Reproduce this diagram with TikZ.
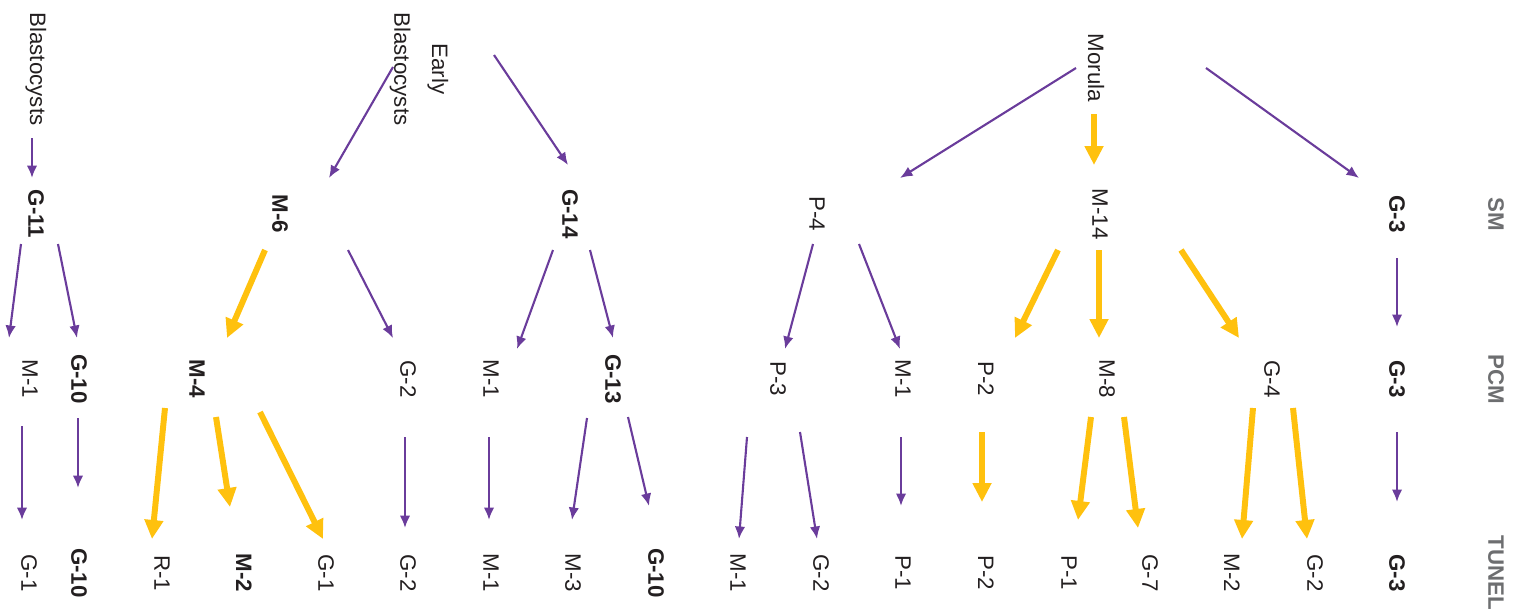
\documentclass[tikz,border=0pt]{standalone}
\usepackage{fontspec}
\setmainfont{Liberation Sans}
\usetikzlibrary{arrows.meta,calc}

\definecolor{ink}{RGB}{35,31,32}
\definecolor{rowgray}{RGB}{109,110,112}
\definecolor{lineviolet}{RGB}{106,60,155}
\definecolor{lineamber}{RGB}{255,193,14}
\newcommand{\lblfont}{\fontsize{12.7}{14}\selectfont}

\tikzset{
  lab/.style={rotate=-90, inner sep=0pt, text=ink, font=\lblfont},
  keylab/.style={lab, font=\lblfont\bfseries},
  rowlab/.style={lab, font=\lblfont\bfseries, text=rowgray},
  parrow/.style={draw=lineviolet, line width=1.2pt, -{Latex[length=0.25cm,width=0.21cm]}},
  yarrow/.style={draw=lineamber, line width=3.4pt, -{Triangle[length=0.38cm,width=0.36cm]}}
}

\begin{document}
\begin{tikzpicture}[x=0.02cm, y=-0.02cm]
\useasboundingbox (0,0) rectangle (1514,612);

% stages
\node[lab] (blast) at (36,69) {Blastocysts};
\node[lab, align=center] (early) at (419,69) {Early\\[7.5pt]Blastocysts};
\node[lab] (morula) at (1096,68) {Morula};

% SM row
\node[keylab] (g11) at (36,214) {G-11};
\node[keylab] (m6) at (280,214) {M-6};
\node[keylab] (g14) at (570,214) {G-14};
\node[lab] (p4) at (817,214) {P-4};
\node[lab] (m14) at (1100,214) {M-14};
\node[keylab] (g3a) at (1397,214) {G-3};
\node[rowlab] (sm) at (1496,214) {SM};

% PCM row
\node[lab] (m1a) at (30,379) {M-1};
\node[keylab] (g10a) at (79,379) {G-10};
\node[keylab] (m4) at (197,379) {M-4};
\node[lab] (g2a) at (408,379) {G-2};
\node[lab] (m1b) at (491,379) {M-1};
\node[keylab] (g13) at (613,379) {G-13};
\node[lab] (p3) at (778,379) {P-3};
\node[lab] (m1c) at (903,379) {M-1};
\node[lab] (p2a) at (986,379) {P-2};
\node[lab] (m8) at (1107,379) {M-8};
\node[lab] (g4) at (1272,379) {G-4};
\node[keylab] (g3b) at (1397,379) {G-3};
\node[rowlab] (pcm) at (1496,379) {PCM};

% TUNEL row
\node[lab] (g1a) at (29,573) {G-1};
\node[keylab] (g10b) at (79,573) {G-10};
\node[lab] (r1) at (162,573) {R-1};
\node[keylab] (m2a) at (244,573) {M-2};
\node[lab] (g1b) at (326,573) {G-1};
\node[lab] (g2b) at (408,573) {G-2};
\node[lab] (m1d) at (491,573) {M-1};
\node[lab] (m3) at (573,573) {M-3};
\node[keylab] (g10c) at (656,573) {G-10};
\node[lab] (m1e) at (738,573) {M-1};
\node[lab] (g2c) at (821,573) {G-2};
\node[lab] (p1a) at (903,573) {P-1};
\node[lab] (p2b) at (986,573) {P-2};
\node[lab] (p1b) at (1069,573) {P-1};
\node[lab] (g7) at (1150,573) {G-7};
\node[lab] (m2b) at (1232,573) {M-2};
\node[lab] (g2d) at (1315,573) {G-2};
\node[keylab] (g3c) at (1397,573) {G-3};
\node[rowlab] (tunel) at (1496,573) {TUNEL};

% stage -> SM
\draw[parrow] ($(blast)+(-4,69)$) -- ($(g11)+(-4,-36)$);
\draw[parrow] ($(early)+(-26,-2)$) -- ($(m6)+(49,-36)$);
\draw[parrow] ($(early)+(75,-14)$) -- ($(g14)+(-2,-49)$);
\draw[parrow] ($(morula)+(-20,0)$) -- ($(p4)+(83,-36)$);
\draw[yarrow] ($(morula)+(-2,46)$) -- ($(m14)+(-6,-49)$);
\draw[parrow] ($(morula)+(110,0)$) -- ($(g3a)+(-38,-36)$);

% SM -> PCM
\draw[parrow] ($(g11)+(-15,30)$) -- ($(m1a)+(-21,-41)$);
\draw[parrow] ($(g11)+(22,30)$) -- ($(g10a)+(-2,-41)$);
\draw[yarrow] ($(m6)+(-15,36)$) -- ($(m4)+(30,-41)$);
\draw[parrow] ($(m6)+(68,36)$) -- ($(g2a)+(-15,-41)$);
\draw[parrow] ($(g14)+(-17,36)$) -- ($(m1b)+(26,-30)$);
\draw[parrow] ($(g14)+(20,36)$) -- ($(g13)+(0,-41)$);
\draw[parrow] ($(p4)+(-4,30)$) -- ($(p3)+(7,-30)$);
\draw[parrow] ($(p4)+(42,30)$) -- ($(m1c)+(-3,-30)$);
\draw[yarrow] ($(m14)+(-42,36)$) -- ($(p2a)+(29,-41)$);
\draw[yarrow] ($(m14)+(-1,36)$) -- ($(m8)+(-8,-41)$);
\draw[yarrow] ($(m14)+(81,36)$) -- ($(g4)+(-33,-41)$);
\draw[parrow] ($(g3a)+(0,44)$) -- ($(g3b)+(0,-52)$);

% PCM -> TUNEL
\draw[parrow] ($(m1a)+(-8,47)$) -- ($(g1a)+(-7,-53)$);
\draw[parrow] ($(g10a)+(-1,39)$) -- ($(g10b)+(-1,-85)$);
\draw[yarrow] ($(m4)+(-32,29)$) -- ($(r1)+(-10,-34)$);
\draw[yarrow] ($(m4)+(19,38)$) -- ($(m2a)+(-14,-66)$);
\draw[yarrow] ($(m4)+(63,33)$) -- ($(g1b)+(-3,-34)$);
\draw[parrow] ($(g2a)+(-3,58)$) -- ($(g2b)+(-3,-45)$);
\draw[parrow] ($(m1b)+(-2,58)$) -- ($(m1d)+(-2,-53)$);
\draw[parrow] ($(g13)+(-26,39)$) -- ($(m3)+(-1,-53)$);
\draw[parrow] ($(g13)+(15,38)$) -- ($(g10c)+(-7,-67)$);
\draw[parrow] ($(p3)+(-31,58)$) -- ($(m1e)+(1,-34)$);
\draw[parrow] ($(p3)+(22,53)$) -- ($(g2c)+(-4,-34)$);
\draw[parrow] ($(m1c)+(-2,58)$) -- ($(p1a)+(-2,-67)$);
\draw[yarrow] ($(p2a)+(-4,53)$) -- ($(p2b)+(-4,-71)$);
\draw[yarrow] ($(m8)+(-16,38)$) -- ($(p1b)+(9,-53)$);
\draw[yarrow] ($(m8)+(17,38)$) -- ($(g7)+(-12,-45)$);
\draw[yarrow] ($(g4)+(-19,29)$) -- ($(m2b)+(10,-34)$);
\draw[yarrow] ($(g4)+(21,29)$) -- ($(g2d)+(-8,-34)$);
\draw[parrow] ($(g3b)+(0,53)$) -- ($(g3c)+(0,-71)$);
\end{tikzpicture}
\end{document}
